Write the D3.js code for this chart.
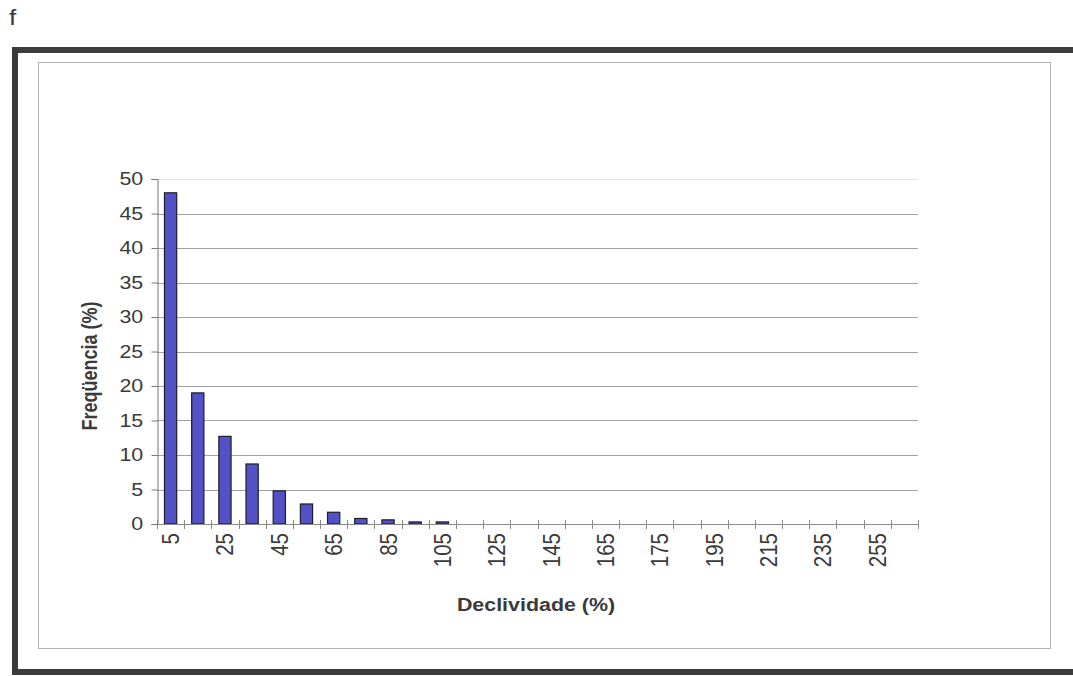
<!DOCTYPE html>
<html>
<head>
<meta charset="utf-8">
<script src="https://cdn.jsdelivr.net/npm/d3@7"></script>
<style>
  html, body { margin: 0; padding: 0; background: #fff; }
  svg { display: block; }
  text { font-family: "Liberation Sans", Arial, sans-serif; }
</style>
</head>
<body>
<svg id="chart" width="1073" height="676"></svg>
<script>
// Slope classes (%) and the share of the area in each class (%)
const categories = ["5", "15", "25", "35", "45", "55", "65", "75", "85", "95",
  "105", "115", "125", "135", "145", "155", "165", "170", "175", "185",
  "195", "205", "215", "225", "235", "245", "255", "265"];
const frequency = [48.0, 19.0, 12.7, 8.7, 4.8, 2.9, 1.7, 0.8, 0.6, 0.3,
  0.3, 0, 0, 0, 0, 0, 0, 0, 0, 0,
  0, 0, 0, 0, 0, 0, 0, 0];
const yTickValues = [0, 5, 10, 15, 20, 25, 30, 35, 40, 45, 50];
const panelLabel = "f";
const xTitle = "Declividade (%)";
const yTitle = "Freqüencia (%)";

// Glyphs in this figure are drawn a little wider than tall
const stretch = 1.19;
const ink = "#3a3a3a";

const svg = d3.select("#chart");

// Outer heavy frame and inner chart-area border
svg.append("rect")
  .attr("x", 15).attr("y", 50).attr("width", 1075).attr("height", 622)
  .attr("fill", "none").attr("stroke", "#3b3b3b").attr("stroke-width", 6);
svg.append("rect")
  .attr("x", 38.5).attr("y", 62.5).attr("width", 1012).attr("height", 586)
  .attr("fill", "none").attr("stroke", "#b4b4b4").attr("stroke-width", 1);

svg.append("text")
  .attr("transform", "translate(9,25) scale(" + stretch + ",1)")
  .attr("font-size", 22).attr("fill", ink)
  .text(panelLabel);

// Scales
const x = d3.scaleBand().domain(categories).range([157, 918]);
const y = d3.scaleLinear().domain([0, 50]).range([524, 179]);
const [x0, x1] = x.range();

// Horizontal gridlines
svg.append("g").selectAll("line")
  .data(yTickValues.filter(v => v > 0))
  .join("line")
  .attr("x1", x0).attr("x2", x1)
  .attr("y1", d => Math.round(y(d)) + 0.5).attr("y2", d => Math.round(y(d)) + 0.5)
  .attr("stroke", d => d === 50 ? "#e2e2e2" : "#a2a2a2")
  .attr("stroke-width", 1);

// Bars
const barW = x.bandwidth() * 0.45;
svg.append("g").selectAll("rect")
  .data(categories.map((c, i) => ({ c, v: frequency[i] })).filter(d => d.v > 0))
  .join("rect")
  .attr("x", d => x(d.c) + (x.bandwidth() - barW) / 2)
  .attr("y", d => y(d.v))
  .attr("width", barW)
  .attr("height", d => Math.max(1, y(0) - y(d.v)))
  .attr("fill", "#5252c6")
  .attr("stroke", "#1e1e2a")
  .attr("stroke-width", 1.2);

// Y axis
const yAxis = d3.axisLeft(y).tickValues(yTickValues).tickSize(6).tickPadding(6);
const gy = svg.append("g").attr("transform", "translate(" + (x0 + 0.5) + ",0)").call(yAxis);
gy.select(".domain").attr("stroke", "#777");
gy.selectAll(".tick line").attr("stroke", "#777");
gy.selectAll(".tick text")
  .attr("font-size", 18).attr("fill", ink)
  .attr("font-family", "Liberation Sans, Arial, sans-serif")
  .attr("transform", "scale(" + stretch + ",1)");

// X axis line with cross tick marks on class boundaries
const gx = svg.append("g");
gx.append("line")
  .attr("x1", x0).attr("x2", x1).attr("y1", y(0) + 0.5).attr("y2", y(0) + 0.5)
  .attr("stroke", "#8a8a8a");
gx.selectAll("line.tick")
  .data(categories.map(c => x(c)).concat([x1]))
  .join("line").attr("class", "tick")
  .attr("x1", d => Math.round(d) + 0.5).attr("x2", d => Math.round(d) + 0.5)
  .attr("y1", y(0) - 4).attr("y2", y(0) + 5)
  .attr("stroke", "#8a8a8a");

// Rotated class labels, every second class
gx.selectAll("g.lbl")
  .data(categories.filter((c, i) => i % 2 === 0))
  .join("g").attr("class", "lbl")
  .attr("transform", d => "translate(" + (x(d) + x.bandwidth() / 2) + "," + (y(0) + 9) + ")")
  .append("text")
  .attr("transform", "scale(" + stretch + ",1) rotate(-90)")
  .attr("text-anchor", "end")
  .attr("dy", "0.35em")
  .attr("font-size", 20.5).attr("fill", ink)
  .text(d => d);

// Axis titles
svg.append("text")
  .attr("transform", "translate(536,611) scale(" + stretch + ",1)")
  .attr("text-anchor", "middle")
  .attr("font-size", 18).attr("font-weight", "bold").attr("fill", ink)
  .text(xTitle);
svg.append("text")
  .attr("transform", "translate(97,366) scale(" + stretch + ",1) rotate(-90)")
  .attr("text-anchor", "middle")
  .attr("font-size", 18).attr("font-weight", "bold").attr("fill", ink)
  .text(yTitle);
</script>
</body>
</html>
